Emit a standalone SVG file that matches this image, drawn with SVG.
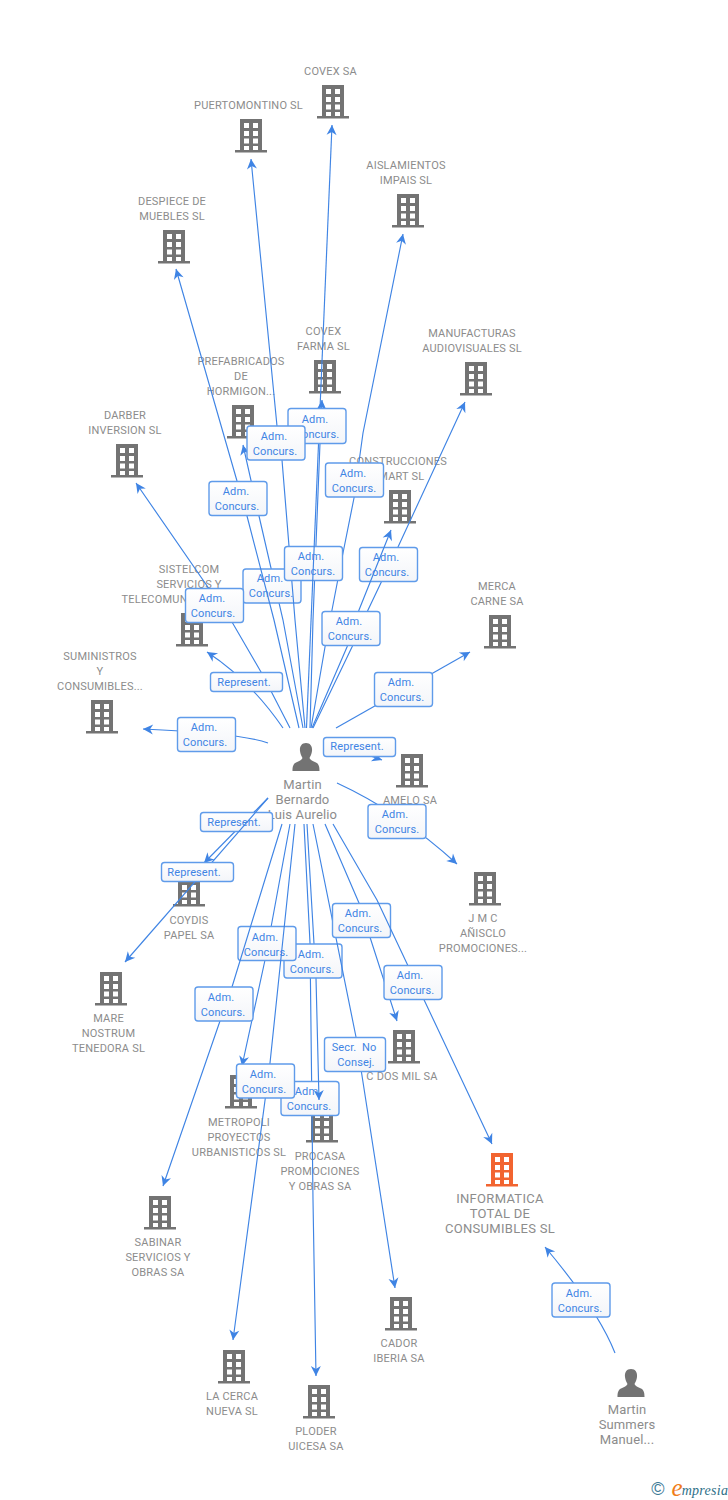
<svg xmlns="http://www.w3.org/2000/svg" width="728" height="1500" viewBox="0 0 728 1500">
<style>
text{font-family:Roboto,"Liberation Sans",Arial,sans-serif;font-size:11px;letter-spacing:.2px;text-anchor:middle}
.n text{fill:#8c8c8c}
.big text{font-size:13px;letter-spacing:.15px}
#n-info text{letter-spacing:.3px}
#connectors path{fill:none;stroke:#3f84e4;stroke-width:1.15;marker-end:url(#a)}
#connectors rect{fill:url(#g);stroke:#5f9bea;stroke-width:1.4}
#connectors text{fill:#3f84e4;letter-spacing:.1px}
</style>
<defs>
<linearGradient id="g" x1="0" y1="0" x2="0" y2="1"><stop offset="0" stop-color="#fff"/><stop offset="1" stop-color="#f3f5f9"/></linearGradient>
<marker id="a" markerUnits="userSpaceOnUse" markerWidth="12" markerHeight="12" refX="10" refY="5" orient="auto" overflow="visible"><path d="M10,5 L0,0 L3,5 L0,10 z" fill="#3f84e4" stroke="none"/></marker>
<symbol id="b" viewBox="0 0 32 34" width="32" height="34" overflow="visible"><path fill-rule="evenodd" d="M5,0 H27 V31 H32 V33.5 H0 V31 H5 Z M9,4 V9 H14 V4 Z M18,4 V9 H23 V4 Z M9,12 V17 H14 V12 Z M18,12 V17 H23 V12 Z M9,19.500 V24.500 H14 V19.500 Z M18,19.500 V24.500 H23 V19.500 Z M9,27 V31 H14 V27 Z M18,27 V31 H23 V27 Z"/></symbol>
<symbol id="p" viewBox="0 0 28 28" width="28" height="28" overflow="visible"><path d="M14,0 C18.500,0 20.500,3.500 20,8 C19.700,11 18.500,13 17.500,15 C18,17 21,18 24,19.500 C26.800,21 27.500,23.500 27.500,28 H0.500 C0.500,23.500 1.200,21 4,19.500 C7,18 10,17 10.500,15 C9.500,13 8.300,11 8,8 C7.500,3.500 9.500,0 14,0 Z"/></symbol>
</defs>
<rect width="728" height="1500" fill="#fff"/>
<g class="n">
<g id="n-covex"><use href="#b" x="317" y="85" fill="#737373"/><text x="330.500" y="75">COVEX SA</text></g>
<g id="n-puerto"><use href="#b" x="235" y="119" fill="#737373"/><text x="248.500" y="109">PUERTOMONTINO SL</text></g>
<g id="n-aisla"><use href="#b" x="392" y="194" fill="#737373"/><text x="406" y="169">AISLAMIENTOS</text><text x="406" y="184">IMPAIS SL</text></g>
<g id="n-despiece"><use href="#b" x="158" y="230" fill="#737373"/><text x="172" y="205">DESPIECE DE</text><text x="172" y="220">MUEBLES SL</text></g>
<g id="n-farma"><use href="#b" x="309" y="360" fill="#737373"/><text x="323.500" y="335">COVEX</text><text x="323.500" y="350">FARMA SL</text></g>
<g id="n-manu"><use href="#b" x="460" y="362" fill="#737373"/><text x="472" y="337">MANUFACTURAS</text><text x="472" y="352">AUDIOVISUALES SL</text></g>
<g id="n-prefab"><use href="#b" x="227" y="405" fill="#737373"/><text x="241" y="365">PREFABRICADOS</text><text x="241" y="380">DE</text><text x="241" y="395">HORMIGON...</text></g>
<g id="n-darber"><use href="#b" x="111" y="444" fill="#737373"/><text x="125" y="419">DARBER</text><text x="125" y="434">INVERSION SL</text></g>
<g id="n-constr"><use href="#b" x="384" y="490" fill="#737373"/><text x="398" y="465">CONSTRUCCIONES</text><text x="398" y="480">SMART SL</text></g>
<g id="n-sistel"><use href="#b" x="176" y="613" fill="#737373"/><text x="189" y="573">SISTELCOM</text><text x="189" y="588">SERVICIOS Y</text><text x="188" y="603">TELECOMUNICACIONES...</text></g>
<g id="n-merca"><use href="#b" x="484" y="615" fill="#737373"/><text x="497" y="590">MERCA</text><text x="497" y="605">CARNE SA</text></g>
<g id="n-sumi"><use href="#b" x="86" y="700" fill="#737373"/><text x="100" y="660">SUMINISTROS</text><text x="100" y="675">Y</text><text x="100" y="690">CONSUMIBLES...</text></g>
<g id="n-amelo"><use href="#b" x="396" y="754" fill="#737373"/><text x="410" y="804">AMELO SA</text></g>
<g id="n-jmc"><use href="#b" x="469" y="872" fill="#737373"/><text x="483" y="922">J M C</text><text x="483" y="937">AÑISCLO</text><text x="483" y="952">PROMOCIONES...</text></g>
<g id="n-coydis"><use href="#b" x="173" y="873" fill="#737373"/><text x="189" y="924">COYDIS</text><text x="189" y="939">PAPEL SA</text></g>
<g id="n-mare"><use href="#b" x="95" y="972" fill="#737373"/><text x="108.500" y="1022">MARE</text><text x="108.500" y="1037">NOSTRUM</text><text x="108.500" y="1052">TENEDORA SL</text></g>
<g id="n-cdos"><use href="#b" x="388" y="1030" fill="#737373"/><text x="402" y="1080">C DOS MIL SA</text></g>
<g id="n-metro"><use href="#b" x="225" y="1075" fill="#737373"/><text x="239" y="1126">METROPOLI</text><text x="239" y="1141">PROYECTOS</text><text x="239" y="1156">URBANISTICOS SL</text></g>
<g id="n-procasa"><use href="#b" x="306" y="1109" fill="#737373"/><text x="320" y="1160">PROCASA</text><text x="320" y="1175">PROMOCIONES</text><text x="320" y="1190">Y OBRAS SA</text></g>
<g id="n-info" class="big"><use href="#b" x="486" y="1153" fill="#f26430"/><text x="500" y="1203">INFORMATICA</text><text x="500" y="1218">TOTAL DE</text><text x="500" y="1233">CONSUMIBLES SL</text></g>
<g id="n-sabinar"><use href="#b" x="144" y="1196" fill="#737373"/><text x="158" y="1246">SABINAR</text><text x="158" y="1261">SERVICIOS Y</text><text x="158" y="1276">OBRAS SA</text></g>
<g id="n-cador"><use href="#b" x="385" y="1297" fill="#737373"/><text x="399" y="1347">CADOR</text><text x="399" y="1362">IBERIA SA</text></g>
<g id="n-cerca"><use href="#b" x="218" y="1350" fill="#737373"/><text x="232" y="1400">LA CERCA</text><text x="232" y="1415">NUEVA SL</text></g>
<g id="n-ploder"><use href="#b" x="303" y="1385" fill="#737373"/><text x="316" y="1435">PLODER</text><text x="316" y="1450">UICESA SA</text></g>
<g id="n-martin" class="big"><use href="#p" x="292" y="743" fill="#737373"/><text x="302.500" y="789">Martin</text><text x="302.500" y="804">Bernardo</text><text x="302.500" y="819">Luis Aurelio</text></g>
<g id="n-summers" class="big"><use href="#p" x="617" y="1369" fill="#737373"/><text x="627" y="1414">Martin</text><text x="627" y="1429">Summers</text><text x="627" y="1444">Manuel...</text></g>
</g>
<g id="connectors">
<path d="M313,728 L352,647 L368,610 L398,547 L465,402"/>
<g id="l7"><rect x="359.500" y="547.500" width="58" height="34" rx="3"/><text x="386" y="561">Adm.</text><text x="387" y="576">Concurs.</text></g>
<path d="M311,728 L325,647 L332,610 L342,558 L354,498 L363,433 L403,234"/>
<path d="M312,728 L347,647 L359,610 L391,530"/>
<g id="l9"><rect x="322" y="611.500" width="58" height="34" rx="3"/><text x="349" y="625">Adm.</text><text x="350" y="640">Concurs.</text></g>
<g id="l3"><rect x="325.500" y="463" width="58" height="34" rx="3"/><text x="353" y="477">Adm.</text><text x="354" y="492">Concurs.</text></g>
<path d="M303,728 L283,620 L259,516 L243,445"/>
<g id="l5"><rect x="243" y="569" width="58" height="34" rx="3"/><text x="270" y="582">Adm.</text><text x="271" y="597">Concurs.</text></g>
<path d="M299,728 L274,620 L247,516 L237,481 L176,269"/>
<g id="l4"><rect x="209" y="481.500" width="58" height="34" rx="3"/><text x="236" y="495">Adm.</text><text x="237" y="510">Concurs.</text></g>
<path d="M305,728 L295,620 L282,460 L277,426 L251,159"/>
<path d="M310,728 L313,620 L320,443 L322,400"/>
<g id="l6"><rect x="284.500" y="546.500" width="58" height="34" rx="3"/><text x="311" y="560">Adm.</text><text x="313" y="575">Concurs.</text></g>
<path d="M306.500,728 L332,125"/>
<g id="l1"><rect x="288" y="408.500" width="58" height="35" rx="3"/><text x="315" y="423">Adm.</text><text x="317" y="438">Concurs.</text></g>
<g id="l2"><rect x="247" y="426" width="58" height="34" rx="3"/><text x="274" y="440">Adm.</text><text x="275" y="455">Concurs.</text></g>
<path d="M290,728 L272,693 L261,672 L232,622 L136,483"/>
<g id="l8"><rect x="185.500" y="588.500" width="58" height="34" rx="3"/><text x="212" y="602">Adm.</text><text x="213" y="617">Concurs.</text></g>
<path d="M283,728 Q250,680 207,652"/>
<g id="l11"><rect x="210.500" y="672.500" width="72" height="19" rx="3"/><text x="244" y="686">Represent.</text></g>
<path d="M336,728 L470,652"/>
<g id="l10"><rect x="374.500" y="672.500" width="58" height="34" rx="3"/><text x="401" y="686">Adm.</text><text x="402" y="701">Concurs.</text></g>
<path d="M268,743 Q240,733 143,729"/>
<g id="l12"><rect x="177.500" y="717.500" width="58" height="34" rx="3"/><text x="204" y="731">Adm.</text><text x="205" y="746">Concurs.</text></g>
<path d="M330,745 Q360,752 382,760"/>
<g id="l13"><rect x="323.500" y="737.500" width="72" height="19" rx="3"/><text x="357" y="750">Represent.</text></g>
<path d="M337,783 Q400,812 457,864"/>
<g id="l14"><rect x="368" y="804.500" width="58" height="34" rx="3"/><text x="395" y="818">Adm.</text><text x="397" y="833">Concurs.</text></g>
<path d="M268,798 L204,863"/>
<g id="l15"><rect x="200.500" y="812.500" width="72" height="19" rx="3"/><text x="234" y="826">Represent.</text></g>
<path d="M268,798 L125,962"/>
<g id="l16"><rect x="161.500" y="862.500" width="72" height="19" rx="3"/><text x="194" y="876">Represent.</text></g>
<path d="M304,824 L310,943 L313,1200 L316,1376"/>
<g id="l23"><rect x="281" y="1081.500" width="58" height="34" rx="3"/><text x="308" y="1095">Adm.</text><text x="309" y="1110">Concurs.</text></g>
<path d="M307,824 L316,978 L319,1100"/>
<g id="l19"><rect x="284" y="944" width="58" height="34" rx="3"/><text x="311" y="958">Adm.</text><text x="312" y="973">Concurs.</text></g>
<path d="M290,824 L265,960 L242,1066"/>
<g id="l18"><rect x="238" y="926.500" width="58" height="34" rx="3"/><text x="265" y="941">Adm.</text><text x="266" y="956">Concurs.</text></g>
<path d="M295,824 L270,1063 L233,1340"/>
<g id="l24"><rect x="236.500" y="1064" width="58" height="34" rx="3"/><text x="263" y="1078">Adm.</text><text x="264" y="1093">Concurs.</text></g>
<path d="M282,824 L232,987 L220,1021 L163,1186"/>
<g id="l21"><rect x="195" y="987" width="58" height="34" rx="3"/><text x="221" y="1001">Adm.</text><text x="223" y="1016">Concurs.</text></g>
<path d="M313,824 L356,1037 L395,1288"/>
<g id="l22"><rect x="324.500" y="1037.500" width="61" height="34" rx="3"/><text x="354" y="1051" xml:space="preserve">Secr.  No</text><text x="356" y="1066">Consej.</text></g>
<path d="M325,824 L359,903 L397,1021"/>
<g id="l17"><rect x="332.500" y="903.500" width="58" height="34" rx="3"/><text x="358" y="917">Adm.</text><text x="360" y="932">Concurs.</text></g>
<path d="M333,824 L377,900 L492,1144"/>
<g id="l20"><rect x="384" y="965.500" width="58" height="34" rx="3"/><text x="410" y="979">Adm.</text><text x="412" y="994">Concurs.</text></g>
<path d="M615,1353 Q598,1310 545,1247"/>
<g id="l25"><rect x="552" y="1283" width="58" height="34" rx="3"/><text x="579" y="1297">Adm.</text><text x="580" y="1312">Concurs.</text></g>
</g>
<g id="logo">
<text x="658" y="1495" style="font-family:'Liberation Sans',sans-serif;font-size:18px;fill:#3c7a96;letter-spacing:0">©</text>
<text x="677" y="1496" style="font-family:'Liberation Serif',serif;font-size:25px;font-style:italic;fill:#f07d1a;letter-spacing:0">e</text>
<text x="705" y="1495" style="font-family:'Liberation Serif',serif;font-size:14px;font-style:italic;fill:#2e7088;letter-spacing:.3px">mpresia</text>
</g>
</svg>
